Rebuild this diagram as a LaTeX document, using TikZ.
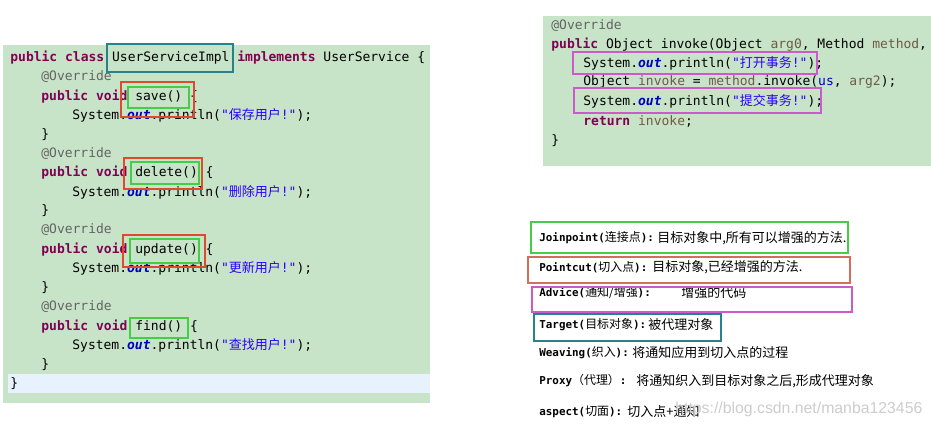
\documentclass[tikz,border=0pt]{standalone}
\usepackage{fontspec}
\setmainfont{Liberation Sans}
\setmonofont{DejaVu Sans Mono}
\newfontfamily\cjk{Noto Sans CJK SC}

\definecolor{panel}{RGB}{200,228,200}
\definecolor{curline}{RGB}{232,242,254}
\definecolor{keyword}{RGB}{127,0,85}
\definecolor{annot}{RGB}{100,100,100}
\definecolor{field}{RGB}{0,0,192}
\definecolor{strcol}{RGB}{42,0,255}
\definecolor{localvar}{RGB}{110,90,70}
\definecolor{tealc}{RGB}{40,130,140}
\definecolor{redc}{RGB}{220,75,45}
\definecolor{greenc}{RGB}{70,205,70}
\definecolor{magc}{RGB}{205,90,205}
\definecolor{salmon}{RGB}{210,110,90}
\definecolor{mark}{RGB}{205,205,205}

\newcommand{\zh}[1]{{\cjk #1}}
\newcommand{\zhl}[1]{{\cjk\mdseries\fontsize{6.8}{8}\selectfont #1}}
\newcommand{\kw}[1]{\textcolor{keyword}{\bfseries #1}}
\newcommand{\ann}[1]{\textcolor{annot}{#1}}
\newcommand{\lv}[1]{\textcolor{localvar}{#1}}
\newcommand{\sysout}[1]{System.\textcolor{field}{\bfseries\itshape out}.println(\textcolor{strcol}{"\zh{#1}!"});}

\begin{document}
\begin{tikzpicture}[x=0.02cm, y=-0.02cm,
	code/.style={anchor=west, inner sep=0pt, font=\ttfamily\fontsize{7.4}{9}\selectfont},
	def/.style={anchor=west, inner sep=0pt, font=\ttfamily\bfseries\fontsize{6.2}{8}\selectfont},
	desc/.style={anchor=west, inner sep=0pt, font=\cjk\fontsize{7.4}{9}\selectfont},
	box/.style={line width=0.8pt}]
	\useasboundingbox [fill=white] (0,0) rectangle (931,428);

	% code panels
	\fill [panel] (3,45) rectangle (430,403);
	\fill [curline] (8,374) rectangle (430,393);
	\fill [panel] (543,16) rectangle (931,166);

	% UserServiceImpl
	\node [code] (cls) at (10,58) {\kw{public class} UserServiceImpl \kw{implements} UserService \{};
	\node [code] (ov1) at (41,77) {\ann{@Override}};
	\node [code] (save) at (41,97) {\kw{public void} save() \{};
	\node [code] (p1) at (72,115) {\sysout{保存用户}};
	\node [code] (e1) at (41,135) {\}};
	\node [code] (ov2) at (41,154) {\ann{@Override}};
	\node [code] (del) at (41,173) {\kw{public void} delete() \{};
	\node [code] (p2) at (72,192) {\sysout{删除用户}};
	\node [code] (e2) at (41,211) {\}};
	\node [code] (ov3) at (41,230) {\ann{@Override}};
	\node [code] (upd) at (41,250) {\kw{public void} update() \{};
	\node [code] (p3) at (72,268) {\sysout{更新用户}};
	\node [code] (e3) at (41,288) {\}};
	\node [code] (ov4) at (41,307) {\ann{@Override}};
	\node [code] (find) at (41,327) {\kw{public void} find() \{};
	\node [code] (p4) at (72,345) {\sysout{查找用户}};
	\node [code] (e4) at (41,365) {\}};
	\node [code] (end) at (10,384) {\}};

	\draw [box, tealc] (107,44) rectangle (233,72);
	\draw [box, redc] (121,82) rectangle (194,117);
	\draw [box, greenc] (128,87) rectangle (189,108);
	\draw [box, redc] (124,158) rectangle (202,189);
	\draw [box, greenc] (131,162) rectangle (199,184);
	\draw [box, redc] (123,235) rectangle (205,267);
	\draw [box, greenc] (130,239) rectangle (199,263);
	\draw [box, greenc] (130,318) rectangle (188,338);

	% invoke
	\node [code] (ov5) at (551,26) {\ann{@Override}};
	\node [code] (inv) at (551,45) {\kw{public} Object invoke(Object \lv{arg0}, Method \lv{method},};
	\node [code] (open) at (583,63) {\sysout{打开事务}};
	\node [code] (call) at (583,82) {Object \lv{invoke} = \lv{method}.invoke(\textcolor{field}{us}, \lv{arg2});};
	\node [code] (commit) at (583,101) {\sysout{提交事务}};
	\node [code] (ret) at (583,121) {\kw{return} \lv{invoke};};
	\node [code] (e5) at (551,141) {\}};

	\draw [box, magc] (573,52) rectangle (817,74);
	\draw [box, magc] (574,88) rectangle (821,113);

	% terms
	\node [def] (jp) at (539,238) {Joinpoint(\zhl{连接点}):};
	\node [desc] (jpd) at (657,238) {目标对象中,所有可以增强的方法.};
	\node [def] (pc) at (539,267) {Pointcut(\zhl{切入点}):};
	\node [desc] (pcd) at (652,267) {目标对象,已经增强的方法.};
	\node [def] (adv) at (539,293) {Advice(\zhl{通知/增强}):};
	\node [desc] (advd) at (681,293) {增强的代码};
	\node [def] (tg) at (539,325) {Target(\zhl{目标对象}):};
	\node [desc] (tgd) at (648,325) {被代理对象};
	\node [def] (wv) at (539,353) {Weaving(\zhl{织入}):};
	\node [desc] (wvd) at (632,353) {将通知应用到切入点的过程};
	\node [def] (px) at (539,381) {Proxy\zhl{（代理）}:};
	\node [desc] (pxd) at (636,381) {将通知织入到目标对象之后,形成代理对象};
	\node [def] (asp) at (539,412) {aspect(\zhl{切面}):};
	\node [desc] (aspd) at (627,412) {切入点+通知};

	\draw [box, greenc] (531,222) rectangle (848,253);
	\draw [box, salmon] (528,257) rectangle (850,283);
	\draw [box, magc] (532,287) rectangle (852,312);
	\draw [box, tealc] (534,314) rectangle (721,341);

	\node [anchor=west, inner sep=0pt, text=mark, font=\fontsize{9}{10}\selectfont] (url) at (675,409) {https://blog.csdn.net/manba123456};
\end{tikzpicture}
\end{document}
